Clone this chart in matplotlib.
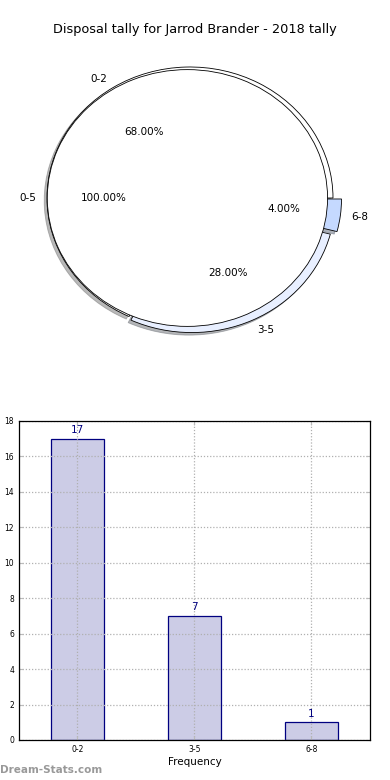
import matplotlib
matplotlib.use('Agg')
import matplotlib.pyplot as plt

# disposal bins and counts
bins = ['0-2', '3-5', '6-8']
counts = [17, 7, 1]
inner_label = ['0-5']
inner_total = [sum(counts)]

pie_colors = ['#ffffff', '#e8efff', '#c5d9ff']
explode = [0.0, 0.03, 0.06]

fig = plt.figure(figsize=(3.9, 7.8), dpi=100)

fig.text(0.5, 1 - 30 / 780, 'Disposal tally for Jarrod Brander - 2018 tally',
         ha='center', va='center', fontsize=9.3)

# pie part
ax1 = fig.add_axes([0.0288, 0.5362, 0.9167, 0.4199])
ax1.pie(counts, labels=bins, colors=pie_colors, explode=explode,
        shadow={'ox': -0.014, 'oy': -0.014, 'shade': 0.55},
        startangle=0, autopct='%.2f%%', radius=1.0, labeldistance=1.08,
        wedgeprops={'edgecolor': 'black', 'linewidth': 0.6},
        textprops={'fontsize': 7.5})
ax1.pie(inner_total, labels=inner_label, colors=['#ffffff'], explode=[0.018],
        startangle=0, autopct='%.2f%%', radius=0.98, labeldistance=1.08,
        wedgeprops={'edgecolor': 'black', 'linewidth': 0.6},
        textprops={'fontsize': 7.5})
ax1.set_aspect('auto')
ax1.set_xlim(-1.25, 1.25)
ax1.set_ylim(-1.25, 1.25)

# bar part
ax2 = fig.add_axes([0.0487, 0.0513, 0.9, 0.409])
xs = list(range(len(bins)))
rects = ax2.bar(xs, counts, width=0.45, color='#ccccE6', edgecolor='#000080', linewidth=0.9)
for r, c in zip(rects, counts):
    ax2.text(r.get_x() + r.get_width() / 2, c + 0.2, str(c), ha='center', va='bottom',
             color='#000080', fontsize=7.5)

ax2.set_xlim(-0.5, 2.5)
ax2.set_ylim(0, 18)
ax2.set_yticks(range(0, 19, 2))
ax2.set_xticks(xs)
ax2.set_xticklabels(bins)
ax2.tick_params(axis='both', labelsize=5.5, direction='in', length=3,
                top=True, right=True, color='#bbbbbb')
ax2.grid(True, linestyle=(0, (1, 1.5)), color='#b0b0b0', linewidth=0.9)
for s in ax2.spines.values():
    s.set_linewidth(0.9)
ax2.set_xlabel('Frequency', fontsize=7.5, labelpad=2)
ax2.set_ylabel('Disposal Tally', fontsize=7.5)
ax2.yaxis.set_label_coords(-0.058, 0.5)

fig.text(0.0, 1 - 770 / 780, 'Dream-Stats.com', ha='left', va='center',
         fontsize=7.5, color='#999999', fontweight='bold')

fig.savefig('out.png', dpi=100)
